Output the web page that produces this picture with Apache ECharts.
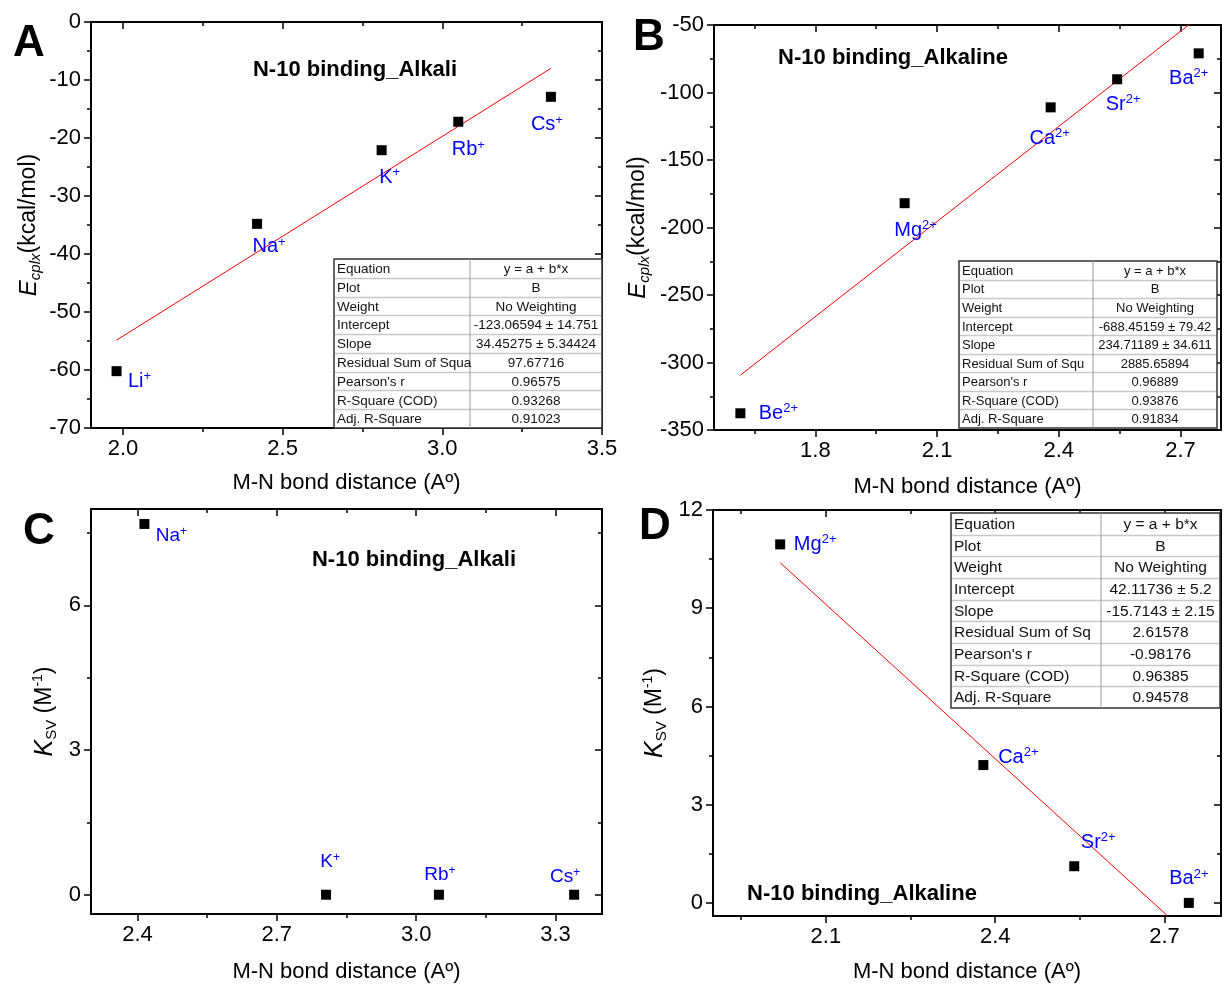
<!DOCTYPE html>
<html>
<head>
<meta charset="utf-8">
<script src="https://cdn.jsdelivr.net/npm/echarts@6/dist/echarts.min.js"></script>
<style>html,body{margin:0;padding:0;background:#fff}#chart{width:1224px;height:987px}</style>
</head>
<body>
<div id="chart"></div>
<script>
// ---------------- DATA ----------------
// Panel A: alkali ions, complexation energy vs M-N distance
const ionsA = ['Li', 'Na', 'K', 'Rb', 'Cs'];
const distA = [1.98, 2.42, 2.81, 3.05, 3.34];
const ecplxA = [-60.2, -34.8, -22.1, -17.2, -12.9];
const fitA = [-123.06594, 34.45275]; // intercept, slope

// Panel B: alkaline-earth ions
const ionsB = ['Be', 'Mg', 'Ca', 'Sr', 'Ba'];
const distB = [1.615, 2.02, 2.38, 2.544, 2.745];
const ecplxB = [-337.6, -182, -111, -90.2, -71];
const fitB = [-688.45159, 234.71189];

// Panel C: alkali ions, KSV
const ionsC = ['Na', 'K', 'Rb', 'Cs'];
const distC = [2.415, 2.806, 3.049, 3.34];
const ksvC = [7.69, 0, 0, 0];

// Panel D: alkaline-earth ions, KSV
const ionsD = ['Mg', 'Ca', 'Sr', 'Ba'];
const distD = [2.019, 2.379, 2.54, 2.743];
const ksvD = [10.95, 4.21, 1.12, 0];
const fitD = [42.11736, -15.7143];

const chargeAlkali = '+';
const chargeAlkaline = '2+';

// Tick values
const xMajorA = [2.0, 2.5, 3.0, 3.5], xMinorA = [2.25, 2.75, 3.25];
const yMajorA = [0, -10, -20, -30, -40, -50, -60, -70], yMinorA = [-5, -15, -25, -35, -45, -55, -65];
const xMajorB = [1.8, 2.1, 2.4, 2.7], xMinorB = [1.65, 1.95, 2.25, 2.55];
const yMajorB = [-50, -100, -150, -200, -250, -300, -350], yMinorB = [-75, -125, -175, -225, -275, -325];
const xMajorC = [2.4, 2.7, 3.0, 3.3], xMinorC = [2.55, 2.85, 3.15];
const yMajorC = [0, 3, 6], yMinorC = [1.5, 4.5, 7.5];
const xMajorD = [2.1, 2.4, 2.7], xMinorD = [1.95, 2.25, 2.55];
const yMajorD = [0, 3, 6, 9, 12], yMinorD = [1.5, 4.5, 7.5, 10.5];

// Fit tables
const tableLabelsA = ['Equation', 'Plot', 'Weight', 'Intercept', 'Slope', 'Residual Sum of Squa', "Pearson's r", 'R-Square (COD)', 'Adj. R-Square'];
const tableValuesA = ['y = a + b*x', 'B', 'No Weighting', '-123.06594 \u00b1 14.751', '34.45275 \u00b1 5.34424', '97.67716', '0.96575', '0.93268', '0.91023'];
const tableLabelsB = ['Equation', 'Plot', 'Weight', 'Intercept', 'Slope', 'Residual Sum of Squ', "Pearson's r", 'R-Square (COD)', 'Adj. R-Square'];
const tableValuesB = ['y = a + b*x', 'B', 'No Weighting', '-688.45159 \u00b1 79.42', '234.71189 \u00b1 34.611', '2885.65894', '0.96889', '0.93876', '0.91834'];
const tableLabelsD = ['Equation', 'Plot', 'Weight', 'Intercept', 'Slope', 'Residual Sum of Sq', "Pearson's r", 'R-Square (COD)', 'Adj. R-Square'];
const tableValuesD = ['y = a + b*x', 'B', 'No Weighting', '42.11736 \u00b1 5.2', '-15.7143 \u00b1 2.15', '2.61578', '-0.98176', '0.96385', '0.94578'];

const titleAlkali = 'N-10 binding_Alkali';
const titleAlkaline = 'N-10 binding_Alkaline';
const xTitle = 'M-N bond distance (A\u00ba)';

// ---------------- LAYOUT / STYLE ----------------
const FONT = '"Liberation Sans", Arial, sans-serif';
const INK = '#000';
const BLUE = '#0000ff';

const labelOffA = [[23, 10], [12, 23], [8, 27], [10, 28], [-4, 28]];
const labelOffB = [[38, 0], [11, 27], [-1, 31], [6, 25], [-10, 25]];
const labelOffC = [[27, 12], [4, -33], [1, -20], [-9, -18]];
const labelOffD = [[35, 0], [35, -8], [24, -24], [0, -24]];

const grids = [
  { left: 91, top: 22, width: 511, height: 406 },
  { left: 714, top: 25, width: 507, height: 405 },
  { left: 91, top: 509, width: 511, height: 405 },
  { left: 713, top: 510, width: 508, height: 406 }
];

const xAxes = [], yAxes = [];
const fmt1 = v => Number(v).toFixed(1);
const fmt0 = v => String(v);

function addAxes(list, gi, isX, min, max, major, minor, fmt, name, nameGap) {
  const pos = isX ? ['bottom', 'top'] : ['left', 'right'];
  const common = { type: 'value', gridIndex: gi, min: min, max: max, splitLine: { show: false }, scale: true };
  const idx = list.length;
  const nameStyle = {
    fontSize: 22, fontFamily: FONT, color: INK,
    rich: {
      e: { fontSize: 24, fontStyle: 'italic', fontFamily: FONT, color: INK, lineHeight: 28 },
      esub: { fontSize: 15, fontStyle: 'italic', fontFamily: FONT, color: INK, lineHeight: 12, verticalAlign: 'bottom' },
      k: { fontSize: 25, fontStyle: 'italic', fontFamily: FONT, color: INK, lineHeight: 28 },
      ksub: { fontSize: 15, fontFamily: FONT, color: INK, lineHeight: 12, verticalAlign: 'bottom' },
      t: { fontSize: 23, fontFamily: FONT, color: INK, lineHeight: 28 },
      sup: { fontSize: 14, fontFamily: FONT, color: INK, lineHeight: 14, verticalAlign: 'top' }
    }
  };
  list.push(Object.assign({}, common, {
    position: pos[0],
    axisLine: { show: true, onZero: false, lineStyle: { color: INK, width: 2 } },
    axisTick: { show: true, inside: false, length: 7, customValues: major, lineStyle: { color: INK, width: 1.5 } },
    axisLabel: { show: true, customValues: major, formatter: fmt, margin: 10, color: INK, fontSize: 22, fontFamily: FONT },
    name: name, nameLocation: 'middle', nameGap: nameGap, nameRotate: isX ? 0 : 90,
    nameTextStyle: nameStyle
  }));
  list.push(Object.assign({}, common, {
    position: pos[0],
    axisLine: { show: false, onZero: false },
    axisTick: { show: true, inside: false, length: 4, customValues: minor, lineStyle: { color: INK, width: 1.5 } },
    axisLabel: { show: false }
  }));
  list.push(Object.assign({}, common, {
    position: pos[1],
    axisLine: { show: true, onZero: false, lineStyle: { color: INK, width: 2 } },
    axisTick: { show: true, inside: true, length: 7, customValues: major, lineStyle: { color: INK, width: 1.5 } },
    axisLabel: { show: false }
  }));
  list.push(Object.assign({}, common, {
    position: pos[1],
    axisLine: { show: false, onZero: false },
    axisTick: { show: true, inside: true, length: 4, customValues: minor, lineStyle: { color: INK, width: 1.5 } },
    axisLabel: { show: false }
  }));
  return idx;
}

const nameE = '{e|E}{esub|cplx}{t|(kcal/mol)}';
const nameK = '{k|K}{ksub|SV}{t| (M}{sup|-1}{t|)}';

const xA = addAxes(xAxes, 0, true, 1.9, 3.5, xMajorA, xMinorA, fmt1, xTitle, 44);
const yA = addAxes(yAxes, 0, false, -70, 0, yMajorA, yMinorA, fmt0, nameE, 48);
const xB = addAxes(xAxes, 1, true, 1.55, 2.8, xMajorB, xMinorB, fmt1, xTitle, 46);
const yB = addAxes(yAxes, 1, false, -350, -50, yMajorB, yMinorB, fmt0, nameE, 62);
const xC = addAxes(xAxes, 2, true, 2.3, 3.4, xMajorC, xMinorC, fmt1, xTitle, 47);
const yC = addAxes(yAxes, 2, false, -0.4, 8, yMajorC, yMinorC, fmt0, nameK, 32);
const xD = addAxes(xAxes, 3, true, 1.9, 2.8, xMajorD, xMinorD, fmt1, xTitle, 45);
const yD = addAxes(yAxes, 3, false, -0.4, 12, yMajorD, yMinorD, fmt0, nameK, 44);

function pointData(xs, ys, ions, charge, offs, fs) {
  return xs.map((x, i) => ({
    value: [x, ys[i]],
    label: {
      show: true, position: 'inside', offset: offs[i],
      formatter: '{n|' + ions[i] + '}{c|' + charge + '}',
      rich: {
        n: { fontSize: fs, fontFamily: FONT, color: BLUE, lineHeight: fs + 2 },
        c: { fontSize: Math.round(fs * 0.65), fontFamily: FONT, color: BLUE, lineHeight: 12, verticalAlign: 'top' }
      }
    }
  }));
}

function fitLine(xs, fit) {
  const x0 = Math.min.apply(null, xs), x1 = Math.max.apply(null, xs);
  return [[x0, fit[0] + fit[1] * x0], [x1, fit[0] + fit[1] * x1]];
}

function scatter(xi, yi, data) {
  return { type: 'scatter', xAxisIndex: xi, yAxisIndex: yi, symbol: 'rect', symbolSize: 10,
    itemStyle: { color: '#000', opacity: 1 }, data: data, z: 3, silent: true };
}
function fit(xi, yi, data) {
  return { type: 'line', xAxisIndex: xi, yAxisIndex: yi, data: data, symbol: 'none', clip: true,
    lineStyle: { color: '#ff0000', width: 1 }, z: 2, silent: true };
}

function tableGraphic(box, labels, values, fs) {
  const els = [];
  const rowH = box.h / labels.length;
  els.push({ type: 'rect', shape: { x: box.x, y: box.y, width: box.w, height: box.h },
    style: { fill: '#fff', stroke: '#333', lineWidth: 1.5 }, z: 10 });
  for (let i = 1; i < labels.length; i++) {
    const y = Math.round(box.y + i * rowH) + 0.5;
    els.push({ type: 'line', shape: { x1: box.x + 1, y1: y, x2: box.x + box.w - 1, y2: y },
      style: { stroke: '#c8c8c8', lineWidth: 1.5 }, z: 11 });
  }
  els.push({ type: 'line', shape: { x1: box.div, y1: box.y, x2: box.div, y2: box.y + box.h },
    style: { stroke: '#9a9a9a', lineWidth: 1 }, z: 11 });
  labels.forEach((t, i) => {
    const cy = box.y + (i + 0.5) * rowH + 1;
    els.push({ type: 'text', x: box.x + 3, y: cy, z: 12,
      style: { text: t, font: fs + 'px ' + FONT, fill: '#111', align: 'left', verticalAlign: 'middle' } });
    els.push({ type: 'text', x: (box.div + box.x + box.w) / 2, y: cy, z: 12,
      style: { text: values[i], font: fs + 'px ' + FONT, fill: '#111', align: 'center', verticalAlign: 'middle' } });
  });
  return els;
}

function text(t, x, y, font) {
  return { type: 'text', x: x, y: y, z: 12,
    style: { text: t, font: font, fill: '#000', align: 'center', verticalAlign: 'middle' } };
}

const graphics = [].concat(
  [text('A', 29, 44, 'bold 44px ' + FONT), text('B', 649, 38, 'bold 44px ' + FONT),
   text('C', 39, 532, 'bold 44px ' + FONT), text('D', 655, 527, 'bold 44px ' + FONT),
   text(titleAlkali, 355, 70, 'bold 22px ' + FONT), text(titleAlkaline, 893, 58, 'bold 22px ' + FONT),
   text(titleAlkali, 414, 560, 'bold 22px ' + FONT), text(titleAlkaline, 862, 894, 'bold 22px ' + FONT)],
  tableGraphic({ x: 334, y: 259, w: 268, h: 169, div: 470 }, tableLabelsA, tableValuesA, 13.5),
  tableGraphic({ x: 959, y: 261, w: 258, h: 167, div: 1093 }, tableLabelsB, tableValuesB, 13),
  tableGraphic({ x: 951, y: 513, w: 269, h: 195, div: 1101 }, tableLabelsD, tableValuesD, 15.5)
);

const option = {
  backgroundColor: '#fff',
  animation: false,
  grid: grids.map(g => Object.assign({ containLabel: false, outerBoundsMode: 'none' }, g)),
  xAxis: xAxes,
  yAxis: yAxes,
  series: [
    fit(xA, yA, fitLine(distA, fitA)),
    scatter(xA, yA, pointData(distA, ecplxA, ionsA, chargeAlkali, labelOffA, 20)),
    fit(xB, yB, fitLine(distB, fitB)),
    scatter(xB, yB, pointData(distB, ecplxB, ionsB, chargeAlkaline, labelOffB, 20)),
    scatter(xC, yC, pointData(distC, ksvC, ionsC, chargeAlkali, labelOffC, 19)),
    fit(xD, yD, fitLine(distD, fitD)),
    scatter(xD, yD, pointData(distD, ksvD, ionsD, chargeAlkaline, labelOffD, 20))
  ],
  graphic: graphics
};

const chart = echarts.init(document.getElementById('chart'), null, { renderer: 'canvas' });
chart.setOption(option);
</script>
</body>
</html>
